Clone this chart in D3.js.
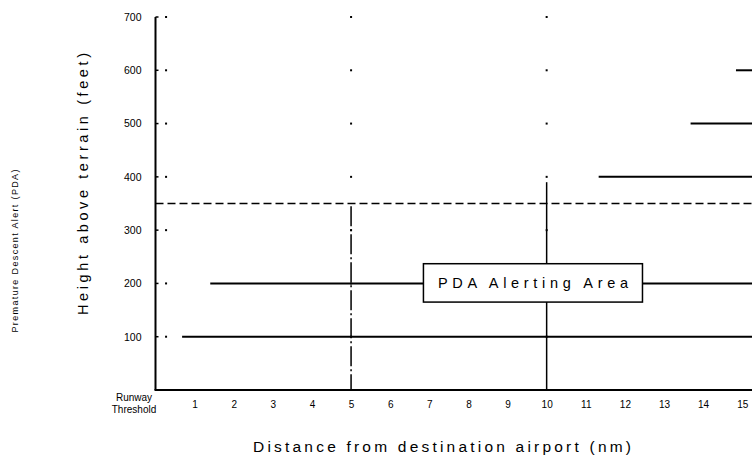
<!DOCTYPE html>
<html><head><meta charset="utf-8">
<script src="https://cdn.jsdelivr.net/npm/d3@7"></script>
<style>body{margin:0;background:#fff}svg{display:block;font-family:"Liberation Sans",Arial,sans-serif}</style>
</head><body><div id="c"></div>
<script>
const xTicks = [0,1,2,3,4,5,6,7,8,9,10,11,12,13,14,15];
const xTickLabels = ["Runway Threshold","1","2","3","4","5","6","7","8","9","10","11","12","13","14","15"];
const yTicks = [100,200,300,400,500,600,700];
// horizontal boundary segments: [startNm, endNm, heightFt]
const hSegStart = [0.68, 1.4, 11.33, 13.68, 14.84];
const hSegEnd   = [15.25, 15.25, 15.25, 15.25, 15.25];
const hSegHeight= [100, 200, 400, 500, 600];
const dashedHeight = 350;
const vDashDotNm = 5, vDashDotTop = 345;
const vSolidNm = 10, vSolidTop = 390;
const boxLabel = "PDA Alerting Area";
const boxNm = [6.85, 12.45], boxFt = [165, 237];
const yTitle = "Height above terrain (feet)";
const xTitle = "Distance from destination airport (nm)";
const sideNote = "Premature Descent Alert (PDA)";

const W=755,H=456;
const svg=d3.select("#c").append("svg").attr("width",W).attr("height",H);
const x=d3.scaleLinear().domain([0,15.25]).range([155.5,752]);
const y=d3.scaleLinear().domain([0,700]).range([390,17]);

// axes (labels only)
const xa=svg.append("g").attr("transform",`translate(0,${y(0)})`)
  .call(d3.axisBottom(x).tickValues(xTicks).tickSize(0).tickPadding(11).tickFormat((d,i)=>xTickLabels[i]));
xa.select(".domain").remove();
xa.selectAll("text").attr("font-size",10).attr("font-family","Liberation Sans, Arial, sans-serif").attr("fill","#000");
xa.selectAll(".tick").filter(d=>d===0).select("text").each(function(){
  const t=d3.select(this).text("").attr("x",-22);
  t.append("tspan").attr("x",-22).attr("dy",0).text("Runway");
  t.append("tspan").attr("x",-22).attr("dy","1.2em").text("Threshold");
});
const ya=svg.append("g").attr("transform",`translate(${x(0)},0)`)
  .call(d3.axisLeft(y).tickValues(yTicks).tickSize(0).tickPadding(14));
ya.select(".domain").remove();
ya.selectAll("text").attr("font-size",10.5).attr("font-family","Liberation Sans, Arial, sans-serif").attr("fill","#000");

// small grid dots at tick levels
const dotNm=[0.27,5,10];
yTicks.forEach(v=>dotNm.forEach(n=>{
  svg.append("rect").attr("x",x(n)-1).attr("y",y(v)-1).attr("width",2).attr("height",2).attr("fill","#000");
}));
// small inward ticks
yTicks.forEach(v=>svg.append("line").attr("x1",x(0)).attr("x2",x(0)+3).attr("y1",y(v)).attr("y2",y(v)).attr("stroke","#000").attr("stroke-width",1.5));

// dashed line
svg.append("line").attr("x1",x(0)).attr("x2",x(15.25)).attr("y1",y(dashedHeight)).attr("y2",y(dashedHeight))
  .attr("stroke","#000").attr("stroke-width",1.5).attr("stroke-dasharray","8,4");
// vertical lines
svg.append("line").attr("x1",x(vDashDotNm)).attr("x2",x(vDashDotNm)).attr("y1",y(vDashDotTop)).attr("y2",y(0))
  .attr("stroke","#000").attr("stroke-width",1.5).attr("stroke-dasharray","20,3,2,3");
svg.append("line").attr("x1",x(vSolidNm)).attr("x2",x(vSolidNm)).attr("y1",y(vSolidTop)).attr("y2",y(0))
  .attr("stroke","#000").attr("stroke-width",1.5);
// horizontal segments
hSegHeight.forEach((h,i)=>{
  svg.append("line").attr("x1",x(hSegStart[i])).attr("x2",x(hSegEnd[i])).attr("y1",y(h)).attr("y2",y(h))
    .attr("stroke","#000").attr("stroke-width",2);
});
// box
svg.append("rect").attr("x",x(boxNm[0])).attr("y",y(boxFt[1])).attr("width",x(boxNm[1])-x(boxNm[0])).attr("height",y(boxFt[0])-y(boxFt[1]))
  .attr("fill","#fff").attr("stroke","#000").attr("stroke-width",1.5);
svg.append("text").attr("x",(x(boxNm[0])+x(boxNm[1]))/2).attr("y",(y(boxFt[0])+y(boxFt[1]))/2+5)
  .attr("text-anchor","middle").attr("font-size",14.5).attr("textLength",190).attr("lengthAdjust","spacing").text(boxLabel);

// axis lines
svg.append("line").attr("x1",x(0)).attr("x2",x(0)).attr("y1",y(700)).attr("y2",y(0)).attr("stroke","#000").attr("stroke-width",2);
svg.append("line").attr("x1",x(0)-1).attr("x2",x(15.25)).attr("y1",y(0)).attr("y2",y(0)).attr("stroke","#000").attr("stroke-width",2);

// titles
svg.append("text").attr("transform","translate(88,184) rotate(-90)").attr("text-anchor","middle")
  .attr("font-size",14.5).attr("textLength",262).attr("lengthAdjust","spacing").text(yTitle);
svg.append("text").attr("x",442).attr("y",452).attr("text-anchor","middle")
  .attr("font-size",15.5).attr("textLength",378).attr("lengthAdjust","spacing").text(xTitle);
svg.append("text").attr("transform","translate(18,251) rotate(-90)").attr("text-anchor","middle")
  .attr("font-size",9).attr("textLength",163).attr("lengthAdjust","spacing").text(sideNote);
</script></body></html>
